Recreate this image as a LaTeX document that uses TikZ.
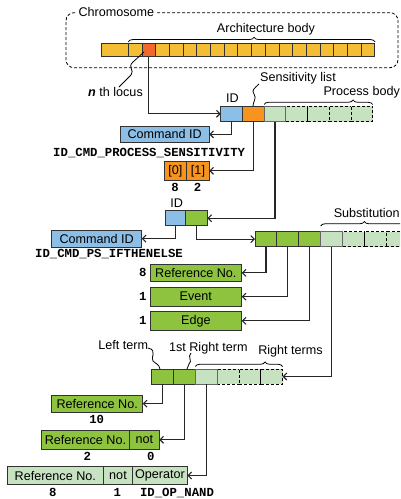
\documentclass[tikz,border=0pt]{standalone}
\usepackage{fontspec}
\setmainfont{Liberation Sans}
\setmonofont{Liberation Mono}
\usetikzlibrary{arrows.meta,decorations.pathreplacing}
\definecolor{ychr}{RGB}{244,190,52}
\definecolor{rchr}{RGB}{240,104,44}
\definecolor{cblue}{RGB}{141,190,230}
\definecolor{corange}{RGB}{247,148,32}
\definecolor{lgreen}{RGB}{198,226,192}
\definecolor{mgreen}{RGB}{141,195,62}
\definecolor{bordc}{RGB}{50,50,50}
\newcommand\mkcell[7]{\node[cell,#2,minimum width={(#5-#3)*1pt},minimum height={(#6-#4)*1pt}] (#1) at ({(#3+#5)/2},{(#4+#6)/2}) {#7};}
\begin{document}
\begin{tikzpicture}[x=1pt,y=-1pt,
  font=\fontsize{12.6}{14}\selectfont,
  cell/.style={draw=bordc,line width=0.9pt,inner sep=0pt,outer sep=0pt},
  dcell/.style={draw=black,dashed,dash pattern=on 3pt off 2pt,line width=0.8pt},
  lbl/.style={inner sep=0pt,anchor=base},
  code/.style={inner sep=0pt,anchor=base,font=\fontsize{12.3}{14}\selectfont\ttfamily\bfseries},
  conn/.style={draw=black!85,line width=1.1pt,-{Straight Barb[length=3.5pt,width=7pt]}},
  sq/.style={draw=black,line width=0.8pt},
  brc/.style={draw=black,line width=0.8pt,decorate}]
\useasboundingbox (0,0) rectangle (400,499);
\clip (0,0) rectangle (400,499);
% chromosome frame
\node[draw=black,dashed,dash pattern=on 3pt off 2pt,line width=0.8pt,rounded corners=8pt,minimum width=332pt,minimum height=55pt,inner sep=0pt] (chrom) at (232,40.2) {};
\node[anchor=base west,fill=white,inner xsep=1.5pt,inner ysep=1pt] (tchrom) at (76.8,16.7) {Chromosome};
% chromosome cells
\mkcell{chb}{fill=ychr}{101.7}{43.3}{128.3}{56.7}{}
\foreach \i in {0,...,17}{
  \pgfmathsetmacro\xa{128.3+\i*13.7}
  \pgfmathsetmacro\xb{\xa+13.7}
  \mkcell{ch\i}{fill=ychr}{\xa}{43.3}{\xb}{56.7}{}
}
\mkcell{chn}{fill=rchr}{142.0}{43.3}{155.7}{56.7}{}
\draw[brc,decoration={brace,amplitude=4.5pt,aspect=0.51}] (128.3,41.8) -- (375,41.8);
\node[lbl] (tarch) at (266,32.3) {Architecture body};
% n th locus
\node[lbl,anchor=base west] (tlocus) at (88,96.7) {\textbf{\textit{n}} th locus};
\draw[sq] (144,52) -- (133,62) .. controls (127,67) and (135,70) .. (131,75) -- (119,87);
% row 1
\mkcell{p2}{fill=lgreen,dcell}{285.8}{106}{307.5}{121.7}{}
\mkcell{p3}{fill=lgreen,dcell}{307.5}{106}{329.2}{121.7}{}
\mkcell{p4}{fill=lgreen,dcell}{329.2}{106}{350.9}{121.7}{}
\mkcell{p5}{fill=lgreen,dcell}{350.9}{106}{372.6}{121.7}{}
\mkcell{id1b}{fill=cblue}{220.7}{106}{242.4}{121.7}{}
\mkcell{id1o}{fill=corange}{242.4}{106}{264.1}{121.7}{}
\mkcell{p1}{fill=lgreen,draw=black!60}{264.1}{106}{285.8}{121.7}{}
\node[lbl] (tid1) at (232.5,102.3) {ID};
\node[lbl] (tsens) at (298,81.5) {Sensitivity list};
\draw[sq] (259,84) .. controls (255,88) and (251,90) .. (254,94) .. controls (257,98) and (253,102) .. (253,106);
\draw[brc,decoration={brace,amplitude=4.5pt,aspect=0.82}] (264.1,104.5) -- (372.6,104.5);
\node[lbl] (tproc) at (361.7,95.5) {Process body};
% command id 1
\mkcell{cmd1}{fill=cblue}{120}{126}{209.3}{142.7}{Command ID}
\node[code] (tcmd1) at (149.2,156.3) {ID\_CMD\_PROCESS\_SENSITIVITY};
\mkcell{sa0}{fill=corange}{164}{161.7}{186.7}{180}{[0]}
\mkcell{sa1}{fill=corange}{186.7}{161.7}{209.3}{180}{[1]}
\node[code] (tsa0) at (175,191.7) {8};
\node[code] (tsa1) at (197.5,191.7) {2};
% row 2
\mkcell{id2b}{fill=cblue}{165}{210.7}{185.7}{225.7}{}
\mkcell{id2g}{fill=mgreen}{185.7}{210.7}{207.3}{225.7}{}
\node[lbl] (tid2) at (176.7,207.3) {ID};
\mkcell{cmd2}{fill=cblue}{51.7}{230}{141.7}{247.3}{Command ID}
\node[code] (tcmd2) at (109,257) {ID\_CMD\_PS\_IFTHENELSE};
% row 3
\mkcell{r3c5}{fill=lgreen,dcell}{342.6}{231.5}{364.5}{246.7}{}
\mkcell{r3c6}{fill=lgreen,dcell}{364.5}{231.5}{386.4}{246.7}{}
\mkcell{r3c7}{fill=lgreen,dcell}{386.4}{231.5}{408.3}{246.7}{}
\mkcell{r3c1}{fill=mgreen}{255}{231.5}{276.9}{246.7}{}
\mkcell{r3c2}{fill=mgreen}{276.9}{231.5}{298.8}{246.7}{}
\mkcell{r3c3}{fill=mgreen}{298.8}{231.5}{320.7}{246.7}{}
\mkcell{r3c4}{fill=lgreen,draw=black!60}{320.7}{231.5}{342.6}{246.7}{}
\draw[brc,decoration={brace,amplitude=4.5pt,aspect=0.5}] (320.7,226) -- (408,226);
\node[lbl] (tsubst) at (366.7,217) {Substitution};
\mkcell{ref1}{fill=mgreen}{150}{264}{241.7}{281.7}{Reference No.}
\mkcell{event}{fill=mgreen}{150}{287.3}{241.7}{306}{Event}
\mkcell{edge}{fill=mgreen}{150}{311.7}{241.7}{330}{Edge}
\node[code] (tref1) at (142.7,276) {8};
\node[code] (tevent) at (142.7,300.3) {1};
\node[code] (tedge) at (142.7,324.5) {1};
% row 4
\mkcell{r4c4}{fill=lgreen,dcell}{217.1}{369}{238.9}{384}{}
\mkcell{r4c5}{fill=lgreen,dcell}{238.9}{369}{260.7}{384}{}
\mkcell{r4c6}{fill=lgreen,dcell}{260.7}{369}{282.5}{384}{}
\mkcell{r4c1}{fill=mgreen}{151.7}{369}{173.5}{384}{}
\mkcell{r4c2}{fill=mgreen}{173.5}{369}{195.3}{384}{}
\mkcell{r4c3}{fill=lgreen,draw=black!60}{195.3}{369}{217.1}{384}{}
\node[lbl] (tleft) at (123.3,349.7) {Left term};
\node[lbl] (tfirst) at (208.3,351.7) {1st Right term};
\node[lbl] (tright) at (290.5,354) {Right terms};
\draw[sq] (148,348) .. controls (158,350) and (150,358) .. (153,361) .. controls (156,364) and (159,364) .. (160,369);
\draw[sq] (191,353) .. controls (187,357) and (193,361) .. (189,364) -- (187,369);
\draw[brc,decoration={brace,amplitude=4.5pt,aspect=0.8}] (195.3,366.5) -- (282.5,366.5);
\mkcell{ref10}{fill=mgreen}{51.7}{395}{142.7}{412.3}{Reference No.}
\node[code] (tref10) at (96.7,423.3) {10};
\mkcell{ref2}{fill=mgreen}{41.7}{430.7}{129.3}{449}{Reference No.}
\mkcell{not2}{fill=mgreen}{129.3}{430.7}{159.3}{449}{not}
\node[code] (tref2) at (87.3,460) {2};
\node[code] (tnot2) at (150.7,460) {0};
\mkcell{ref8}{fill=lgreen}{7.3}{466.7}{103.3}{484.3}{Reference No.}
\mkcell{not8}{fill=lgreen}{103.3}{466.7}{132.7}{484.3}{not}
\mkcell{op}{fill=lgreen}{132.7}{466.7}{187.3}{484.3}{Operator}
\node[code] (tref8) at (52.7,496.7) {8};
\node[code] (tnot8) at (117.3,496.7) {1};
\node[code] (top) at (177,496.7) {ID\_OP\_NAND};
% connectors
\draw[conn] (chn.south) |- (id1b.west);
\draw[conn] (id1b.south) |- (cmd1.east);
\draw[conn] (id1o.south) |- (sa1.east);
\draw[conn] (p1.south) |- (id2g.east);
\draw[conn] (id2b.south) |- (cmd2.east);
\draw[conn] (id2g.south) |- (r3c1.west);
\draw[conn] (r3c1.south) |- (ref1.east);
\draw[conn] (r3c2.south) |- (event.east);
\draw[conn] (r3c3.south) |- (edge.east);
\draw[conn] (r3c4.south) |- (r4c6.east);
\draw[conn] (r4c1.south) |- (ref10.east);
\draw[conn] (r4c2.south) |- (not2.east);
\draw[conn] (r4c3.south) |- (op.east);
\end{tikzpicture}
\end{document}
